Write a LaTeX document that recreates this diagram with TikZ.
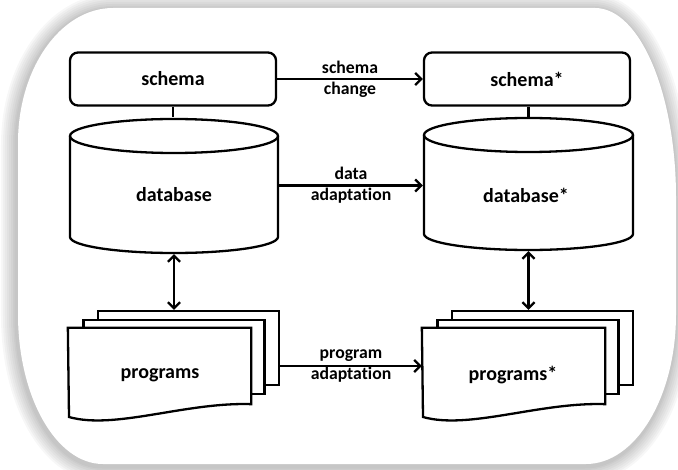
\documentclass[tikz,border=0pt]{standalone}
\usepackage{fontspec}
\setmainfont{Carlito}[Ligatures=NoCommon]
\usetikzlibrary{arrows.meta,calc}
\newcommand\nfont{\bfseries\fontsize{20bp}{24bp}\selectfont}
\newcommand\lfont{\bfseries\fontsize{17.7bp}{21bp}\selectfont}
\def\bgpath{(113,8) -- (595,8) .. controls (639.7,8) and (676,93.1) .. (676,198) -- (676,314) .. controls (676,396.8) and (635.7,464) .. (586,464) -- (103,464) .. controls (56.1,464) and (18,396.8) .. (18,314) -- (18,143) .. controls (18,68.5) and (60.6,8) .. (113,8) -- cycle}
\begin{document}
\begin{tikzpicture}[x=1bp,y=-1bp,line width=2.3bp,
  >={Straight Barb[length=6bp,width=12bp]},
  box/.style={draw,fill=white,rounded corners=8bp,minimum width=206bp,minimum height=53bp,inner sep=0pt,font=\nfont},
  body/.style={inner sep=0pt,minimum width=208bp},
  txt/.style={inner sep=0pt,font=\nfont},
  page/.style={draw,fill=white,inner sep=0pt,minimum width=181bp,minimum height=74bp},
  lab/.style={inner sep=0pt,align=center,font=\lfont}]
\useasboundingbox (0,0) rectangle (678,470);
% background with soft shadow
\begin{scope}[xshift=-1bp,yshift=-2bp]
\foreach \w in {32,28,24,20,16,12,8,5}
  \draw[line width=\w bp,black,opacity=0.032] \bgpath;
\end{scope}
\fill[white] \bgpath;
% schema boxes
\node[box] (schema) at (173,79) {schema};
\node[box] (schema2) at (527,79) {schema*};
% database cylinders
\node[body,minimum height=135bp] (db) at (174,185.5) {};
\node[body,minimum height=132bp,minimum width=209bp] (db2) at (528.5,184) {};
\draw[fill=white] (70,136) -- (70,237) .. controls (70,245.8) and (116.6,253) .. (174,253) .. controls (231.4,253) and (278,245.8) .. (278,237) -- (278,136);
\draw (174,136) ellipse [x radius=104, y radius=17];
\draw[fill=white] (424,135) -- (424,234) .. controls (424,242.8) and (470.8,250) .. (528.5,250) .. controls (586.2,250) and (633,242.8) .. (633,234) -- (633,135);
\draw (528.5,135) ellipse [x radius=104.5, y radius=17];
\node[txt] (dbt) at (174,195) {database};
\node[txt] (db2t) at (526,195) {database*};
% program stacks
\node[page] (pl3) at (188.5,348) {};
\node[page] (pl2) at (174,357) {};
\node[page] (pl1) at (159.5,366) {};
\draw[fill=white] (pl1.south east) -- (pl1.north east) -- (pl1.north west) -- (69,417) .. controls (115,430) and (185,402) .. (pl1.south east) -- cycle;
\node[txt] (plt) at (160,375) {programs};
\node[page] (pr3) at (542.5,348) {};
\node[page] (pr2) at (528,357) {};
\node[page] (pr1) at (513.5,366) {};
\draw[fill=white] (pr1.south east) -- (pr1.north east) -- (pr1.north west) -- (423,417) .. controls (469,430) and (539,402) .. (pr1.south east) -- cycle;
\node[txt] (prt) at (513,375) {programs*};
% connectors
\draw (schema.south) -- (schema.south |- db.north);
\draw (db2.north) -- (db2.north |- schema2.south);
\draw[->] (schema.east) -- (schema2.west) node[midway,lab] {schema\\change};
\draw[->] (db.east) -- (db.east -| db2.west) node[midway,lab] {data\\adaptation};
\draw[->] (pl3.east |- pr1.west) -- (pr1.west) node[midway,lab] {program\\adaptation};
\draw[<->] (db.south) -- (db.south |- pl3.north);
\draw[<->] (db2.south) -- (db2.south |- pr3.north);
\end{tikzpicture}
\end{document}
